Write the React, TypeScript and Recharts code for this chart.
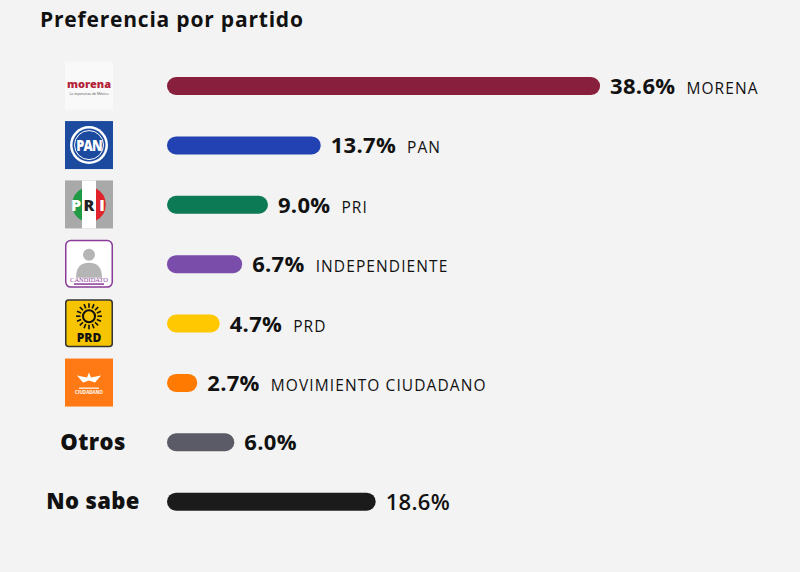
import { BarChart, Bar, XAxis, YAxis, Cell, LabelList } from 'recharts';

const partyKeys = ['morena', 'pan', 'pri', 'independiente', 'prd', 'mc', 'Otros', 'No sabe'];
const partyNames = ['MORENA', 'PAN', 'PRI', 'INDEPENDIENTE', 'PRD', 'MOVIMIENTO CIUDADANO', '', ''];
const shares = [38.6, 13.7, 9.0, 6.7, 4.7, 2.7, 6.0, 18.6];
const barColors = ['#88203d', '#2241b2', '#0c7a55', '#7a4dab', '#ffc800', '#ff7a00', '#5b5b68', '#1b1b1b'];

const data = partyKeys.map((key, i) => ({ key, name: partyNames[i], share: shares[i], color: barColors[i] }));

const FONT = '"Open Sans", "Noto Sans", sans-serif';

function Logo({ id }: { id: string }) {
  // 48x48 logo, top-left at (0,0)
  switch (id) {
    case 'morena':
      return (
        <g>
          <rect width={48} height={48} fill="#f9f9f9" />
          <text x={24} y={26} textAnchor="middle" fontFamily={FONT} fontWeight={800} fontSize={11} fill="#b3243a">morena</text>
          <text x={24} y={33} textAnchor="middle" fontFamily={FONT} fontSize={3.5} fill="#555">La esperanza de México</text>
        </g>
      );
    case 'pan':
      return (
        <g>
          <rect width={48} height={48} fill="#1c4a9e" />
          <circle cx={24} cy={24} r={19} fill="#fff" />
          <circle cx={24} cy={24} r={16.5} fill="#1c4a9e" />
          <circle cx={24} cy={24} r={14.5} fill="none" stroke="#fff" strokeWidth={1} />
          <text x={24} y={30} textAnchor="middle" fontFamily={FONT} fontWeight={800} fontSize={15} fill="#fff" letterSpacing={-1} transform="translate(24 0) scale(0.85 1) translate(-24 0)">PAN</text>
        </g>
      );
    case 'pri':
      return (
        <g>
          <rect width={48} height={48} fill="#a9a9a9" />
          <rect x={17} width={14} height={48} fill="#fff" />
          <path d="M17 8 A18 18 0 0 0 17 40 Z" fill="#1f9a45" />
          <path d="M31 8 A18 18 0 0 1 31 40 Z" fill="#e0232b" />
          <text x={11} y={31} textAnchor="middle" fontFamily={FONT} fontWeight={800} fontSize={16} fill="#fff">P</text>
          <text x={24} y={31} textAnchor="middle" fontFamily={FONT} fontWeight={800} fontSize={16} fill="#222">R</text>
          <text x={37} y={31} textAnchor="middle" fontFamily={FONT} fontWeight={800} fontSize={16} fill="#fff">I</text>
        </g>
      );
    case 'independiente':
      return (
        <g>
          <rect x={0.75} y={0.75} width={46.5} height={46.5} rx={5} fill="#fff" stroke="#8a3b98" strokeWidth={1.5} />
          <circle cx={24} cy={15} r={6} fill="#b5b5b5" />
          <path d="M11 38 Q11 23 24 23 Q37 23 37 38 Z" fill="#b5b5b5" />
          <text x={24} y={42} textAnchor="middle" fontFamily="Liberation Serif, serif" fontSize={6.5} fill="#8a3b98">CANDIDATO</text>
          <rect x={9} y={43.5} width={30} height={1.5} fill="#8a3b98" />
        </g>
      );
    case 'prd':
      return (
        <g>
          <rect x={0.75} y={0.75} width={46.5} height={46.5} rx={3} fill="#f6c400" stroke="#333" strokeWidth={1.5} />
          <circle cx={24} cy={17} r={6} fill="none" stroke="#111" strokeWidth={2} />
          {Array.from({ length: 16 }).map((_, k) => {
            const a = (k / 16) * Math.PI * 2;
            return (
              <line key={k} x1={24 + Math.cos(a) * 8.5} y1={17 + Math.sin(a) * 8.5} x2={24 + Math.cos(a) * 13} y2={17 + Math.sin(a) * 13} stroke="#111" strokeWidth={1.6} />
            );
          })}
          <text x={24} y={43} textAnchor="middle" fontFamily={FONT} fontWeight={800} fontSize={12} fill="#111">PRD</text>
        </g>
      );
    case 'mc':
      return (
        <g>
          <rect width={48} height={48} fill="#ff7a14" />
          <path d="M12 17 L22 19 L24 14 L26 19 L36 17 L30 24 L24 22 L18 24 Z" fill="#fff" />
          <rect x={14} y={29} width={20} height={1.2} fill="#fff" />
          <text x={24} y={35} textAnchor="middle" fontFamily={FONT} fontWeight={700} fontSize={4.5} fill="#fff">CIUDADANO</text>
        </g>
      );
    default:
      return null;
  }
}

function PartyTick(props: any) {
  const { y, payload } = props;
  const id = payload.value as string;
  const cx = 89;
  if (id === 'Otros' || id === 'No sabe') {
    return (
      <text x={cx + 4} y={y + 8} textAnchor="middle" fontFamily={FONT} fontWeight={800} fontSize={22} letterSpacing={0.4} fill="#111">
        {id}
      </text>
    );
  }
  return (
    <g transform={`translate(${cx - 24}, ${y - 24})`}>
      <Logo id={id} />
    </g>
  );
}

function ValueLabel(props: any) {
  const { x, y, width, height, value, index } = props;
  const name = partyNames[index];
  const last = index === data.length - 1;
  return (
    <text x={x + width + 10} y={y + height / 2 + 8} fontFamily={FONT} fill="#111">
      <tspan fontSize={22} fontWeight={last ? 600 : 700} letterSpacing={0.3}>{`${Number(value).toFixed(1)}%`}</tspan>
      {name && (
        <tspan dx={11} fontSize={15.5} fontWeight={500} letterSpacing={1.1}>
          {name}
        </tspan>
      )}
    </text>
  );
}

export default function App() {
  return (
    <div style={{ position: 'fixed', top: 0, left: 0, width: 800, height: 572, background: '#f3f3f3' }}>
      <div
        style={{
          position: 'absolute',
          left: 40,
          top: 5,
          fontFamily: FONT,
          fontWeight: 700,
          fontSize: 21,
          letterSpacing: 0.8,
          color: '#111',
        }}
      >
        Preferencia por partido
      </div>
      <BarChart
        width={800}
        height={572}
        data={data}
        layout="vertical"
        margin={{ top: 56, right: 72, bottom: 41, left: 0 }}
        barCategoryGap={0}
      >
        <XAxis type="number" domain={[0, 50]} hide />
        <YAxis type="category" dataKey="key" width={167} axisLine={false} tickLine={false} tick={<PartyTick />} interval={0} />
        <Bar dataKey="share" barSize={18} radius={9} isAnimationActive={false}>
          {data.map((d) => (
            <Cell key={d.key} fill={d.color} />
          ))}
          <LabelList dataKey="share" content={<ValueLabel />} />
        </Bar>
      </BarChart>
    </div>
  );
}
